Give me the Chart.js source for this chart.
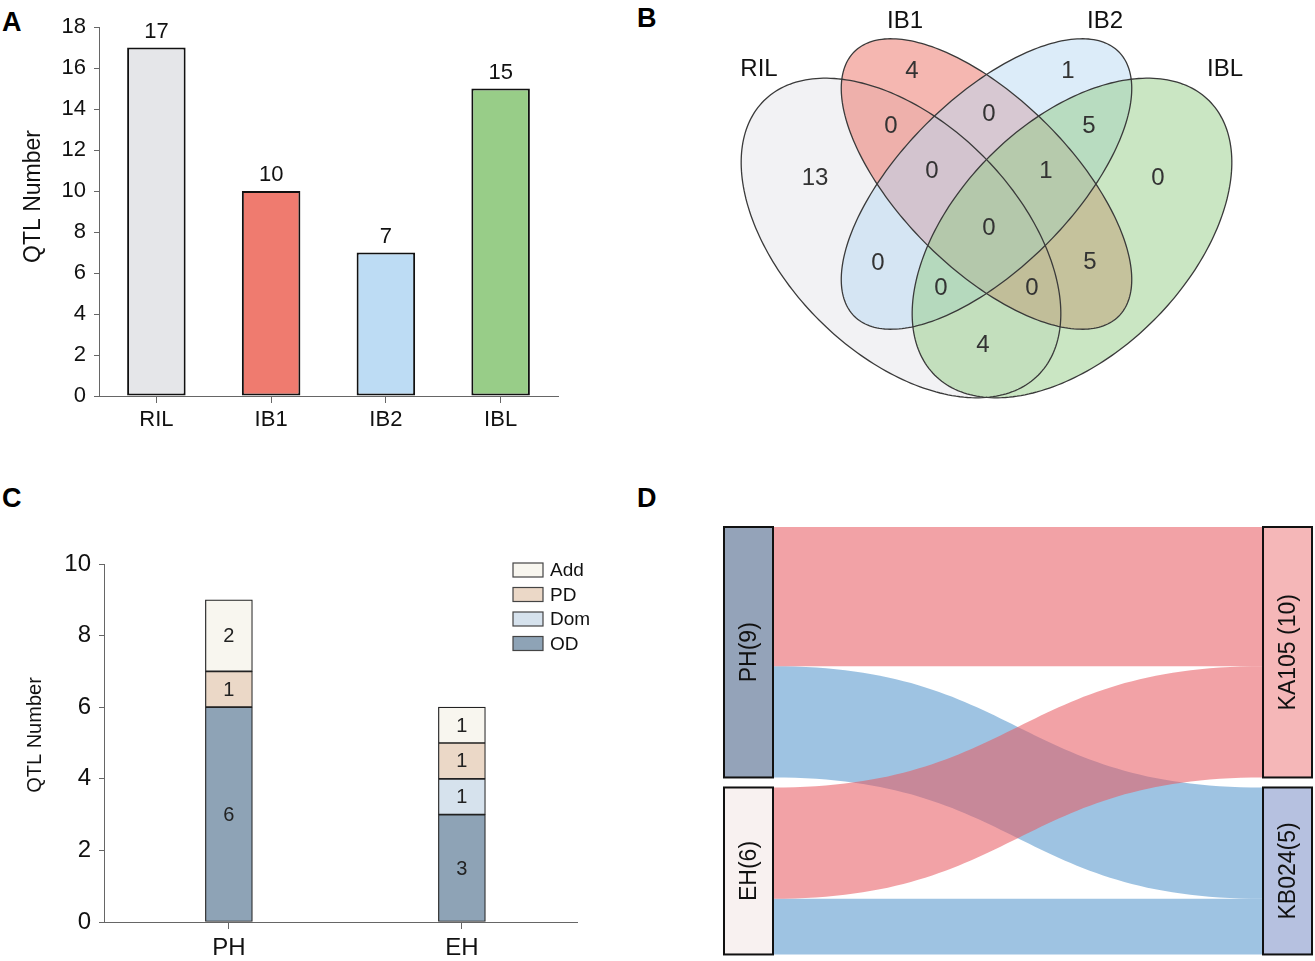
<!DOCTYPE html>
<html>
<head>
<meta charset="utf-8">
<script src="https://cdn.jsdelivr.net/npm/chart.js@4.4.1/dist/chart.umd.min.js"></script>
<style>
  body { margin: 0; background: #fff; width: 1315px; height: 961px; position: relative; overflow: hidden;
         font-family: 'Liberation Sans', Arial, sans-serif; }
  canvas { position: absolute; }
  .tag { position: absolute; font-weight: bold; font-size: 27px; line-height: 27px; color: #000; }
</style>
</head>
<body>
<div class="tag" style="left:2px;top:9px">A</div>
<div class="tag" style="left:637px;top:5px">B</div>
<div class="tag" style="left:2px;top:485px">C</div>
<div class="tag" style="left:637px;top:485px">D</div>

<canvas id="chartA" width="600" height="445" style="left:0;top:0"></canvas>
<canvas id="chartB" width="655" height="480" style="left:660px;top:0"></canvas>
<canvas id="chartC" width="640" height="481" style="left:0;top:480px"></canvas>
<canvas id="chartD" width="655" height="481" style="left:660px;top:480px"></canvas>

<script>
// ---- data ----
// A: QTL number per population
const populations = ['RIL', 'IB1', 'IB2', 'IBL'];
const qtlNumbers = [17, 10, 7, 15];
const qtlAxisMax = 18;

// B: venn of the four populations
const vennSets = ['RIL', 'IB1', 'IB2', 'IBL'];
const vennRegions = ['RIL', 'IB1', 'IB2', 'IBL', 'RIL&IB1', 'IB1&IB2', 'IB2&IBL',
  'RIL&IB1&IB2', 'IB1&IB2&IBL', 'RIL&IB1&IB2&IBL', 'RIL&IB2', 'IB1&IBL',
  'RIL&IB2&IBL', 'RIL&IB1&IBL', 'RIL&IBL'];
const vennCounts = [13, 4, 1, 0, 0, 0, 5, 0, 1, 0, 0, 5, 0, 0, 4];

// C: effect types per trait
const traits = ['PH', 'EH'];
const effectNames = ['OD', 'Dom', 'PD', 'Add'];
const odCounts = [6, 3];
const domCounts = [0, 1];
const pdCounts = [1, 1];
const addCounts = [2, 1];
const effectAxisMax = 10;

// D: trait -> parent flows
const traitNodes = ['PH(9)', 'EH(6)'];
const parentNodes = ['KA105 (10)', 'KB024(5)'];
const flowSource = [0, 0, 1, 1];
const flowTarget = [0, 1, 0, 1];
const flowValues = [5, 4, 4, 2];

// ---- common ----
const fontFam = "'Liberation Sans', Arial, sans-serif";
Chart.defaults.font.family = fontFam;
Chart.defaults.color = '#111';
Chart.defaults.animation = false;

// rotated y title, drawn a little above the axis middle like the original
const yTitle = {
  id: 'yTitle',
  afterDraw(chart, args, o) {
    const { ctx, chartArea } = chart;
    ctx.save();
    ctx.translate(o.x, (chartArea.top + chartArea.bottom) / 2 - o.lift);
    ctx.rotate(-Math.PI / 2);
    ctx.font = o.size + 'px ' + fontFam;
    ctx.fillStyle = '#111';
    ctx.textAlign = 'center';
    ctx.textBaseline = 'middle';
    ctx.fillText(o.text, 0, 0);
    ctx.restore();
  }
};

// A -----------------------------------------------------------------
const barColorsA = ['#e5e6e9', '#ef7b6f', '#bddcf4', '#98cd88'];

const valueLabels = {
  id: 'valueLabels',
  afterDatasetsDraw(chart) {
    const ctx = chart.ctx;
    ctx.save();
    ctx.font = '22px ' + fontFam;
    ctx.fillStyle = '#111';
    ctx.textAlign = 'center';
    ctx.textBaseline = 'alphabetic';
    chart.getDatasetMeta(0).data.forEach((bar, i) => {
      ctx.fillText(String(chart.data.datasets[0].data[i]), bar.x, bar.y - 10);
    });
    ctx.restore();
  }
};

new Chart(document.getElementById('chartA'), {
  type: 'bar',
  data: {
    labels: populations,
    datasets: [{
      data: qtlNumbers,
      backgroundColor: barColorsA,
      borderColor: '#111',
      borderWidth: 2,
      borderSkipped: false,
      categoryPercentage: 1,
      barPercentage: 0.51
    }]
  },
  options: {
    responsive: false,
    layout: { padding: { top: 27, right: 42, left: 0, bottom: 0 } },
    plugins: {
      legend: { display: false }, tooltip: { enabled: false },
      yTitle: { text: 'QTL Number', size: 23, x: 34, lift: 15 }
    },
    scales: {
      x: {
        grid: { drawOnChartArea: false, offset: false, tickLength: 7, color: '#666' },
        border: { color: '#666' },
        ticks: { font: { size: 22 }, padding: 4, color: '#111' },
        afterFit(s) { s.height = 49; }
      },
      y: {
        min: 0, max: qtlAxisMax,
        ticks: { stepSize: 2, font: { size: 22 }, padding: 8, color: '#111' },
        grid: { drawOnChartArea: false, tickLength: 5, color: '#666' },
        border: { color: '#666' },
        afterFit(s) { s.width = 99; }
      }
    }
  },
  plugins: [valueLabels, yTitle]
});

// B -----------------------------------------------------------------
// ellipse geometry in panel units (5px), y grows downward
const vennShapes = [
  { cx: 48.2, cy: 47.6, a: 38.8, b: 23.2, rot: 45, fill: 'rgba(229,230,234,0.5)' },
  { cx: 65.3, cy: 36.8, a: 37.4, b: 17.0, rot: 45, fill: 'rgba(236,112,100,0.5)' },
  { cx: 65.3, cy: 36.8, a: 37.4, b: 17.0, rot: 135, fill: 'rgba(185,218,243,0.5)' },
  { cx: 82.4, cy: 47.6, a: 38.8, b: 23.2, rot: 135, fill: 'rgba(150,205,136,0.5)' }
];
const vennSetLabelPos = [[19.8, 13.8], [49, 4.2], [89, 4.2], [113, 13.8]];
const vennRegionPos = [
  [31, 35.6], [50.4, 14.2], [81.6, 14.2], [99.6, 35.6],
  [46.2, 25.2], [65.8, 22.8], [85.8, 25.2],
  [54.4, 34.2], [77.2, 34.2], [65.8, 45.6],
  [43.6, 52.6], [86, 52.4],
  [56.2, 57.6], [74.4, 57.6], [64.6, 69]
];

const vennDraw = {
  id: 'vennDraw',
  beforeDatasetsDraw(chart) {
    const { ctx, scales: { x, y } } = chart;
    const path = (e) => {
      const th = e.rot * Math.PI / 180;
      ctx.beginPath();
      for (let k = 0; k <= 240; k++) {
        const t = k / 240 * Math.PI * 2;
        const ux = e.cx + e.a * Math.cos(th) * Math.cos(t) - e.b * Math.sin(th) * Math.sin(t);
        const uy = e.cy + e.a * Math.sin(th) * Math.cos(t) + e.b * Math.cos(th) * Math.sin(t);
        const px = x.getPixelForValue(ux), py = y.getPixelForValue(uy);
        if (k === 0) ctx.moveTo(px, py); else ctx.lineTo(px, py);
      }
      ctx.closePath();
    };
    ctx.save();
    vennShapes.forEach(e => { path(e); ctx.fillStyle = e.fill; ctx.fill(); });
    ctx.strokeStyle = '#3a3a3a';
    ctx.lineWidth = 1.3;
    vennShapes.forEach(e => { path(e); ctx.stroke(); });
    ctx.restore();
  },
  afterDatasetsDraw(chart) {
    const { ctx, scales: { x, y } } = chart;
    ctx.save();
    ctx.font = '24px ' + fontFam;
    ctx.textAlign = 'center';
    ctx.textBaseline = 'middle';
    ctx.fillStyle = '#111';
    vennSets.forEach((s, i) => {
      ctx.fillText(s, x.getPixelForValue(vennSetLabelPos[i][0]), y.getPixelForValue(vennSetLabelPos[i][1]));
    });
    ctx.fillStyle = '#333';
    chart.data.datasets[0].data.forEach(p => {
      ctx.fillText(String(p.v), x.getPixelForValue(p.x), y.getPixelForValue(p.y));
    });
    ctx.restore();
  }
};

new Chart(document.getElementById('chartB'), {
  type: 'scatter',
  data: {
    datasets: [{
      data: vennCounts.map((v, i) => ({ x: vennRegionPos[i][0], y: vennRegionPos[i][1], v: v, region: vennRegions[i] })),
      pointRadius: 0
    }]
  },
  options: {
    responsive: false,
    layout: { padding: 0 },
    plugins: { legend: { display: false }, tooltip: { enabled: false } },
    scales: {
      x: { type: 'linear', display: false, min: 0, max: 131 },
      y: { type: 'linear', display: false, min: 0, max: 96, reverse: true }
    }
  },
  plugins: [vennDraw]
});

// C -----------------------------------------------------------------
const effectColors = ['#8ea3b6', '#d6e2ed', '#ebd8c7', '#f8f6ef'];

const segmentLabels = {
  id: 'segmentLabels',
  afterDatasetsDraw(chart) {
    const ctx = chart.ctx;
    ctx.save();
    ctx.font = '20px ' + fontFam;
    ctx.fillStyle = '#222';
    ctx.textAlign = 'center';
    ctx.textBaseline = 'middle';
    chart.data.datasets.forEach((ds, di) => {
      chart.getDatasetMeta(di).data.forEach((bar, i) => {
        const v = ds.data[i].y;
        if (v > 0) ctx.fillText(String(v), bar.x, (bar.y + bar.base) / 2 + 1);
      });
    });
    ctx.restore();
  }
};

const stackLegend = {
  id: 'stackLegend',
  afterDraw(chart) {
    const { ctx, chartArea } = chart;
    const n = chart.data.datasets.length;
    ctx.save();
    ctx.font = '19px ' + fontFam;
    ctx.textBaseline = 'middle';
    ctx.textAlign = 'left';
    for (let k = 0; k < n; k++) {
      const ds = chart.data.datasets[n - 1 - k];
      const bx = chartArea.right - 64, by = chartArea.top - 1 + k * 24.5;
      ctx.fillStyle = ds.backgroundColor;
      ctx.fillRect(bx, by, 30, 14);
      ctx.strokeStyle = '#444';
      ctx.lineWidth = 1.2;
      ctx.strokeRect(bx, by, 30, 14);
      ctx.fillStyle = '#111';
      ctx.fillText(ds.label, bx + 37, by + 8);
    }
    ctx.restore();
  }
};

const effectSeries = [odCounts, domCounts, pdCounts, addCounts];
new Chart(document.getElementById('chartC'), {
  type: 'bar',
  data: {
    datasets: effectNames.map((name, i) => ({
      label: name,
      data: effectSeries[i].map((v, j) => ({ x: j, y: v })),
      backgroundColor: effectColors[i],
      borderColor: '#222',
      borderWidth: 1.2,
      borderSkipped: false,
      barThickness: 47
    }))
  },
  options: {
    responsive: false,
    layout: { padding: { top: 84, right: 63, left: 0, bottom: 0 } },
    plugins: {
      legend: { display: false }, tooltip: { enabled: false },
      yTitle: { text: 'QTL Number', size: 20, x: 35, lift: 8 }
    },
    scales: {
      x: {
        type: 'linear',
        stacked: true,
        offset: false,
        min: -0.536, max: 1.494,
        afterBuildTicks(s) { s.ticks = traits.map((t, i) => ({ value: i })); },
        grid: { drawOnChartArea: false, offset: false, tickLength: 7, color: '#666' },
        border: { color: '#666' },
        ticks: { font: { size: 24 }, padding: 5, color: '#111', callback: v => traits[v] },
        afterFit(s) { s.height = 39; }
      },
      y: {
        stacked: true,
        min: 0, max: effectAxisMax,
        ticks: { stepSize: 2, font: { size: 24 }, padding: 8, color: '#111' },
        grid: { drawOnChartArea: false, tickLength: 5, color: '#666' },
        border: { color: '#666' },
        afterFit(s) { s.width = 104; }
      }
    }
  },
  plugins: [segmentLabels, stackLegend, yTitle]
});

// D -----------------------------------------------------------------
const traitColors = ['#94a3b9', '#f8f1f0'];
const parentColors = ['#f5b7b8', '#b6c1e0'];
const flowColors = ['rgba(231,90,96,0.56)', 'rgba(93,155,207,0.6)'];
const nodeGap = 0.36;
const nodeWidth = 0.1;

const sankeyDraw = {
  id: 'sankeyDraw',
  beforeDatasetsDraw(chart) {
    const { ctx, scales: { x, y } } = chart;
    const total = (arr, n) => { const t = new Array(n).fill(0); arr.forEach((k, j) => t[k] += flowValues[j]); return t; };
    const leftTot = total(flowSource, traitNodes.length);
    const rightTot = total(flowTarget, parentNodes.length);
    const starts = (tot) => { const s = []; let acc = 0; tot.forEach(v => { s.push(acc); acc += v + nodeGap; }); return s; };
    const leftStart = starts(leftTot), rightStart = starts(rightTot);
    const leftOff = leftStart.slice(), rightOff = rightStart.slice();
    const bands = flowValues.map((v, j) => {
      const s = flowSource[j], t = flowTarget[j];
      const b = { t, y0: leftOff[s], y1: rightOff[t], v };
      leftOff[s] += v; rightOff[t] += v;
      return b;
    });
    const x0 = x.getPixelForValue(0), x1 = x.getPixelForValue(1), xm = (x0 + x1) / 2;
    ctx.save();
    // blue flows under, red flows on top
    [1, 0].forEach(target => {
      bands.filter(b => b.t === target).forEach(b => {
        const a0 = y.getPixelForValue(b.y0), a1 = y.getPixelForValue(b.y0 + b.v);
        const c0 = y.getPixelForValue(b.y1), c1 = y.getPixelForValue(b.y1 + b.v);
        ctx.beginPath();
        ctx.moveTo(x0, a0);
        ctx.bezierCurveTo(xm, a0, xm, c0, x1, c0);
        ctx.lineTo(x1, c1);
        ctx.bezierCurveTo(xm, c1, xm, a1, x0, a1);
        ctx.closePath();
        ctx.fillStyle = flowColors[target];
        ctx.fill();
      });
    });
    const box = (xa, xb, ya, yb, fill, label) => {
      const px0 = x.getPixelForValue(xa), px1 = x.getPixelForValue(xb);
      const py0 = y.getPixelForValue(ya), py1 = y.getPixelForValue(yb);
      ctx.fillStyle = fill;
      ctx.fillRect(px0, py0, px1 - px0, py1 - py0);
      ctx.strokeStyle = '#111';
      ctx.lineWidth = 2;
      ctx.strokeRect(px0, py0, px1 - px0, py1 - py0);
      ctx.save();
      ctx.translate((px0 + px1) / 2 + 1, (py0 + py1) / 2);
      ctx.rotate(-Math.PI / 2);
      ctx.font = '23px ' + fontFam;
      ctx.fillStyle = '#111';
      ctx.textAlign = 'center';
      ctx.textBaseline = 'middle';
      ctx.fillText(label, 0, 0);
      ctx.restore();
    };
    traitNodes.forEach((n, i) => box(-nodeWidth, 0, leftStart[i], leftStart[i] + leftTot[i], traitColors[i], n));
    parentNodes.forEach((n, i) => box(1, 1 + nodeWidth, rightStart[i], rightStart[i] + rightTot[i], parentColors[i], n));
    ctx.restore();
  }
};

new Chart(document.getElementById('chartD'), {
  type: 'scatter',
  data: { datasets: [{ data: [], pointRadius: 0 }] },
  options: {
    responsive: false,
    layout: { padding: 0 },
    plugins: { legend: { display: false }, tooltip: { enabled: false } },
    scales: {
      x: { type: 'linear', display: false, min: -0.2306, max: 1.1061 },
      y: { type: 'linear', display: false, min: -1.689, max: 15.595, reverse: true }
    }
  },
  plugins: [sankeyDraw]
});
</script>
</body>
</html>
